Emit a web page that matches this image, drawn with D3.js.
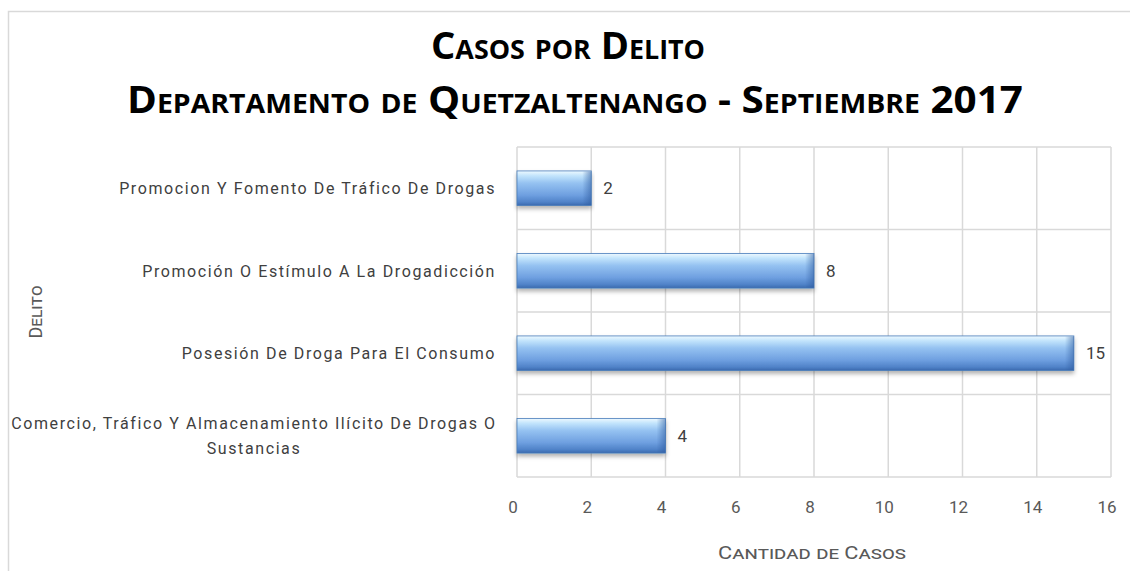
<!DOCTYPE html>
<html>
<head>
<meta charset="utf-8">
<script src="https://cdn.jsdelivr.net/npm/d3@7"></script>
<style>
  body { margin: 0; background: #fff; }
  svg { display: block; }
</style>
</head>
<body>
<script>
// datos del grafico
const delitos = [
  "Promocion Y Fomento De Tráfico De Drogas",
  "Promoción O Estímulo A La Drogadicción",
  "Posesión De Droga Para El Consumo",
  "Comercio, Tráfico Y Almacenamiento Ilícito De Drogas O|Sustancias"
];
const casos = [2, 8, 15, 4];
const ticksX = [0, 2, 4, 6, 8, 10, 12, 14, 16];
const titulo1 = "Casos por Delito";
const titulo2 = "Departamento  de Quetzaltenango  - Septiembre 2017";

const width = 1130, height = 571;
const margin = {top: 147, right: 19, bottom: 94, left: 517};

const svg = d3.select("body").append("svg")
  .attr("width", width)
  .attr("height", height);

// gradientes de la barra
const defs = svg.append("defs");
const grad = defs.append("linearGradient")
  .attr("id", "barGrad").attr("x1", 0).attr("y1", 0).attr("x2", 0).attr("y2", 1);
[[0, "#eef9ff"], [0.14, "#c2e4fc"], [0.35, "#95c2f1"], [0.7, "#6e9fe0"], [0.9, "#4f82c8"], [1, "#3a68ad"]]
  .forEach(s => grad.append("stop").attr("offset", s[0]).attr("stop-color", s[1]));
const endGrad = defs.append("linearGradient")
  .attr("id", "endGrad").attr("x1", 0).attr("y1", 0).attr("x2", 1).attr("y2", 0);
endGrad.append("stop").attr("offset", 0).attr("stop-color", "#2d5a9e").attr("stop-opacity", 0);
endGrad.append("stop").attr("offset", 1).attr("stop-color", "#2d5a9e").attr("stop-opacity", 0.55);
const shadow = defs.append("filter").attr("id", "sombra")
  .attr("x", "-5%").attr("y", "-20%").attr("width", "110%").attr("height", "160%");
shadow.append("feDropShadow").attr("dx", 0).attr("dy", 3).attr("stdDeviation", 2)
  .attr("flood-color", "#000").attr("flood-opacity", 0.3);

// borde del area del grafico
svg.append("rect")
  .attr("x", 8.5).attr("y", 11.5)
  .attr("width", width + 20).attr("height", height + 20)
  .attr("fill", "none").attr("stroke", "#d9d9d9").attr("stroke-width", 1.5);

// escalas
const x = d3.scaleLinear()
  .domain([0, 16])
  .range([margin.left, width - margin.right]);

const y = d3.scaleBand()
  .domain(delitos)
  .range([margin.top, height - margin.bottom])
  .paddingInner(0.58)
  .paddingOuter(0.29);

const step = y.step();

// cuadricula
const grid = svg.append("g")
  .attr("stroke", "#d9d9d9")
  .attr("stroke-width", 1.5);
grid.selectAll("line.v")
  .data(ticksX)
  .join("line")
  .attr("class", "v")
  .attr("x1", d => x(d)).attr("x2", d => x(d))
  .attr("y1", margin.top).attr("y2", height - margin.bottom);
grid.selectAll("line.h")
  .data(delitos.concat(["__fin"]))
  .join("line")
  .attr("class", "h")
  .attr("x1", x(0)).attr("x2", x(16))
  .attr("y1", (d, i) => margin.top + i * step)
  .attr("y2", (d, i) => margin.top + i * step);

// barras
const barras = svg.append("g");
delitos.forEach(function(d, i) {
  const g = barras.append("g");
  const w = x(casos[i]) - x(0);
  g.append("rect")
    .attr("x", x(0)).attr("y", y(d))
    .attr("width", w).attr("height", y.bandwidth())
    .attr("fill", "url(#barGrad)")
    .attr("stroke", "#4a7ebb").attr("stroke-width", 0.8)
    .attr("filter", "url(#sombra)");
  // faceta del extremo derecho
  g.append("rect")
    .attr("x", x(casos[i]) - 9).attr("y", y(d) + 0.5)
    .attr("width", 9).attr("height", y.bandwidth() - 1)
    .attr("fill", "url(#endGrad)");
  // etiqueta de valor
  g.append("text")
    .attr("x", x(casos[i]) + 12)
    .attr("y", y(d) + y.bandwidth() / 2)
    .attr("dy", "0.36em")
    .attr("font-family", "Roboto, 'Open Sans', sans-serif")
    .attr("font-size", 17)
    .attr("fill", "#404040")
    .text(casos[i]);
});

// etiquetas del eje x
svg.append("g")
  .selectAll("text")
  .data(ticksX)
  .join("text")
  .attr("x", d => x(d) - 4)
  .attr("y", height - margin.bottom + 30)
  .attr("dy", "0.36em")
  .attr("text-anchor", "middle")
  .attr("font-family", "Roboto, 'Open Sans', sans-serif")
  .attr("font-size", 17)
  .attr("fill", "#595959")
  .text(d => d);

// etiquetas de categoria
const cat = svg.append("g")
  .attr("font-family", "Roboto, 'Open Sans', sans-serif")
  .attr("font-size", 16)
  .attr("letter-spacing", 1.6)
  .attr("fill", "#404040");
delitos.forEach(function(d) {
  const lineas = d.split("|");
  const cy = y(d) + y.bandwidth() / 2;
  const t = cat.append("text")
    .attr("y", cy - (lineas.length - 1) * 12.5)
    .attr("dy", "0.36em");
  if (lineas.length === 1) {
    t.attr("x", 496).attr("text-anchor", "end").text(lineas[0]);
  } else {
    t.attr("x", 254).attr("text-anchor", "middle");
    lineas.forEach((l, k) => {
      t.append("tspan").attr("x", 254).attr("dy", k === 0 ? "0.36em" : 25).text(l);
    });
  }
});

// titulo
const tit = svg.append("g")
  .attr("font-family", "'Open Sans', 'DejaVu Sans', sans-serif")
  .attr("font-weight", "bold")
  .attr("font-variant", "small-caps")
  .attr("fill", "#000")
  .attr("text-anchor", "middle");
tit.append("text")
  .attr("x", 568).attr("y", 59)
  .attr("font-size", 37)
  .attr("textLength", 274).attr("lengthAdjust", "spacingAndGlyphs")
  .text(titulo1);
tit.append("text")
  .attr("x", 575).attr("y", 113)
  .attr("font-size", 37)
  .attr("textLength", 896).attr("lengthAdjust", "spacingAndGlyphs")
  .text(titulo2);

// titulos de ejes
svg.append("text")
  .attr("x", (x(0) + x(16)) / 2 - 2)
  .attr("y", 559)
  .attr("text-anchor", "middle")
  .attr("font-family", "Roboto, 'Open Sans', sans-serif")
  .attr("font-variant", "small-caps")
  .attr("font-size", 18)
  .attr("fill", "#595959")
  .attr("textLength", 188).attr("lengthAdjust", "spacingAndGlyphs")
  .text("Cantidad de Casos");

svg.append("text")
  .attr("transform", "translate(42," + ((margin.top + height - margin.bottom) / 2) + ") rotate(-90)")
  .attr("text-anchor", "middle")
  .attr("font-family", "Roboto, 'Open Sans', sans-serif")
  .attr("font-variant", "small-caps")
  .attr("font-size", 18)
  .attr("fill", "#595959")
  .text("Delito");
</script>
</body>
</html>
